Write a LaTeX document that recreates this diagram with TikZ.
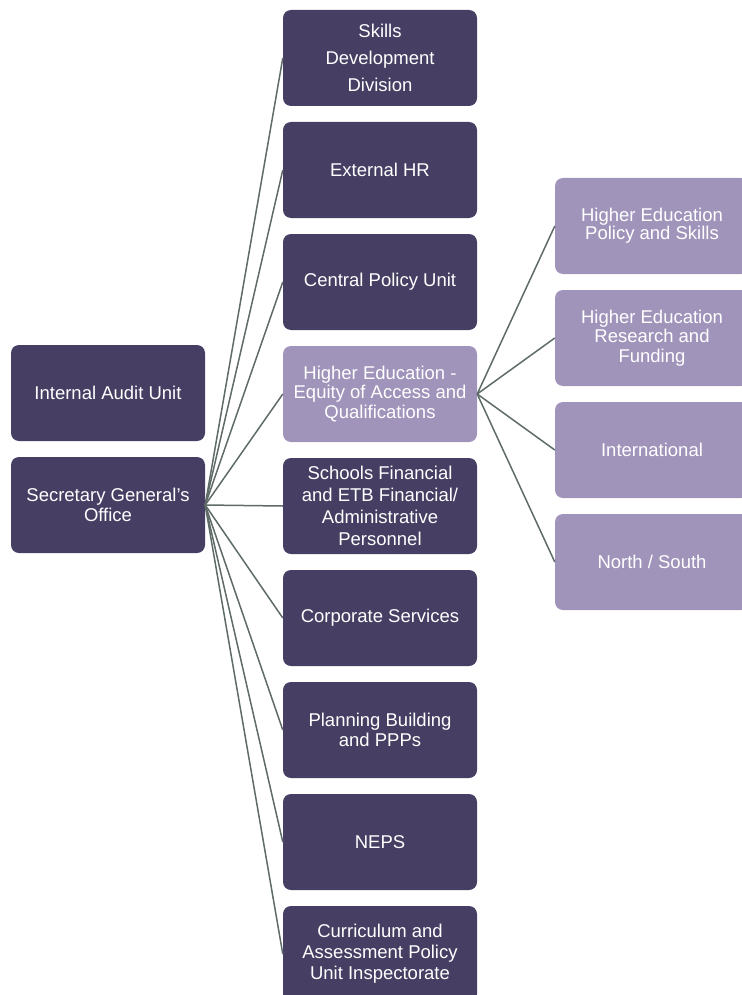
\documentclass[tikz,border=0pt]{standalone}
\usepackage{fontspec}
\setmainfont{Liberation Sans}
\definecolor{unitdark}{RGB}{70,63,99}
\definecolor{unitlight}{RGB}{160,148,187}
\definecolor{linkgrey}{RGB}{94,107,102}
\tikzset{
  unit/.style={fill=unitdark, text=white, rounded corners=8pt, minimum width=194pt,
    minimum height=96pt, inner sep=0pt, align=center,
    font=\fontsize{18.5}{20}\selectfont},
  subunit/.style={unit, fill=unitlight},
  link/.style={draw=linkgrey, line width=1.5pt}
}
\begin{document}
\begin{tikzpicture}[x=1pt, y=-1pt]
    \useasboundingbox (0,0) rectangle (741,995);
    % Left column
    \node[unit] (audit) at (108,393) {Internal Audit Unit};
    \node[unit] (secgen) at (108,505) {Secretary General's\\Office};
    % Middle column
    \node[unit, font=\fontsize{18.5}{27}\selectfont] (skills) at (380,58) {Skills\\Development\\Division};
    \node[unit] (exthr) at (380,170) {External HR};
    \node[unit] (policy) at (380,282) {Central Policy Unit};
    \node[subunit, font=\fontsize{18.5}{19.5}\selectfont] (higher) at (380,394) {Higher Education -\\Equity of Access and\\Qualifications};
    \node[unit, font=\fontsize{18.5}{22}\selectfont] (schools) at (380,506) {Schools Financial\\and ETB Financial/\\Administrative\\Personnel};
    \node[unit] (corporate) at (380,618) {Corporate Services};
    \node[unit] (planning) at (380,730) {Planning Building\\and PPPs};
    \node[unit] (neps) at (380,842) {NEPS};
    \node[unit, font=\fontsize{18.5}{21}\selectfont] (curric) at (380,954) {Curriculum and\\Assessment Policy\\Unit Inspectorate};
    % Right column
    \node[subunit, font=\fontsize{18.5}{18}\selectfont] (hepolicy) at (652,226) {Higher Education\\Policy and Skills};
    \node[subunit, font=\fontsize{18.5}{19.5}\selectfont] (heresearch) at (652,338) {Higher Education\\Research and\\Funding};
    \node[subunit] (intl) at (652,450) {International};
    \node[subunit] (northsouth) at (652,562) {North / South};
    % Links
    \foreach \n in {skills,exthr,policy,higher,schools,corporate,planning,neps,curric}
      \draw[link] (secgen.east) -- (\n.west);
    \foreach \n in {hepolicy,heresearch,intl,northsouth}
      \draw[link] (higher.east) -- (\n.west);
\end{tikzpicture}
\end{document}
